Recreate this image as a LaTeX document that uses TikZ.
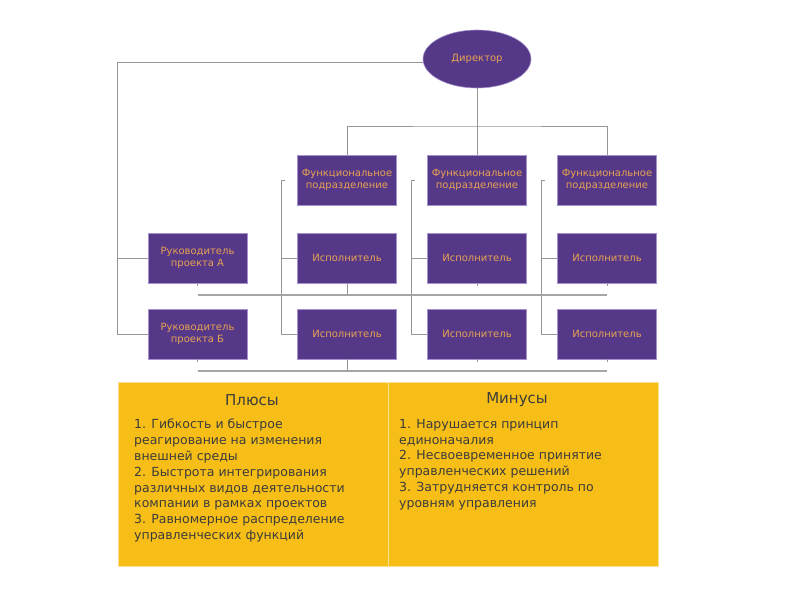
\documentclass[tikz,border=0pt]{standalone}
\usepackage{fontspec}
\setmainfont{DejaVu Sans}
\usepackage{xcolor}
\usetikzlibrary{shapes.geometric}

\definecolor{boxpurple}{RGB}{85,57,136}
\definecolor{boxedge}{RGB}{165,145,205}
\definecolor{boxtext}{RGB}{232,162,82}
\definecolor{linegray}{RGB}{150,150,150}
\definecolor{projgray}{RGB}{165,165,165}
\definecolor{panelyellow}{RGB}{246,190,22}
\definecolor{paneledge}{RGB}{250,225,150}
\definecolor{listgray}{RGB}{60,60,60}

\begin{document}
\begin{tikzpicture}[x=1pt,y=-1pt,
  unit/.style={rectangle, fill=boxpurple, draw=boxedge, line width=0.6pt,
    minimum width=99pt, minimum height=50pt, inner sep=1pt,
    text=boxtext, align=center, font=\fontsize{10}{12}\selectfont},
  link/.style={draw=linegray, line width=0.8pt},
  projline/.style={draw=projgray, line width=2pt},
  panel/.style={rectangle, fill=panelyellow, draw=paneledge, line width=0.6pt,
    minimum width=270pt, minimum height=184pt, inner sep=0pt},
  head/.style={text=listgray, font=\fontsize{15}{18}\selectfont},
  listtext/.style={text=listgray, align=left, inner sep=0pt,
    font=\fontsize{12.5}{15.8}\selectfont}]
\useasboundingbox (0,0) rectangle (800,600);

% Director and functional units
\node[unit, ellipse, minimum width=108pt, minimum height=58pt] (dir) at (477,59) {Директор};
\node[unit] (f1) at (347,180) {Функциональное\\подразделение};
\node[unit] (f2) at (477,180) {Функциональное\\подразделение};
\node[unit] (f3) at (607,180) {Функциональное\\подразделение};

% Project managers and executors
\node[unit] (ra) at (197.5,258) {Руководитель\\проекта А};
\node[unit] (rb) at (197.5,334) {Руководитель\\проекта Б};
\node[unit] (e11) at (347,258) {Исполнитель};
\node[unit] (e12) at (477,258) {Исполнитель};
\node[unit] (e13) at (607,258) {Исполнитель};
\node[unit] (e21) at (347,334) {Исполнитель};
\node[unit] (e22) at (477,334) {Исполнитель};
\node[unit] (e23) at (607,334) {Исполнитель};

% Director links
\coordinate (lt) at (117,62);
\draw[link] (dir.west |- lt) -- (lt) |- (rb.west);
\draw[link] (lt |- ra.west) -- (ra.west);
\coordinate (top) at (477,126);
\draw[link] (dir.south) -- (top);
\draw[link] (f1.north) |- (top) -| (f3.north);
\draw[link] (top) -- (f2.north);

% Functional unit links
\foreach \f/\a/\b in {f1/e11/e21, f2/e12/e22, f3/e13/e23}{
  \draw[link] ([xshift=-12pt]\f.west) -- ++(-4,0) coordinate (k) |- (\b.west);
  \draw[link] (k |- \a.west) -- (\a.west);
}

% Project links
\path (ra.south) ++(0,12) coordinate (pa);
\path (rb.south) ++(0,12) coordinate (pb);
\draw[projline] (pa) -- (e13.south |- pa);
\draw[projline] (pb) -- (e23.south |- pb);
\draw[link] (e11.south) -- (e11.south |- pa);
\draw[link] (e21.south) -- (e21.south |- pb);
\foreach \n in {ra, e12, e13, rb, e22, e23}
  \draw[link] (\n.south) -- ++(0,3);

% Pros and cons
\node[panel] (plus) at (253,474) {};
\node[panel] (minus) at (523,474) {};
\draw[paneledge, line width=1pt] (plus.north east) -- (plus.south east);
\node[head] (plushead) at (252,400) {Плюсы};
\node[head] (minushead) at (517,400) {Минусы};
\node[listtext, anchor=north west] (pluslist) at (134,419) {1. Гибкость и быстрое\\
реагирование на изменения\\
внешней среды\\
2. Быстрота интегрирования\\
различных видов деятельности\\
компании в рамках проектов\\
3. Равномерное распределение\\
управленческих функций};
\node[listtext, anchor=north west] (minuslist) at (399,419) {1. Нарушается принцип\\
единоначалия\\
2. Несвоевременное принятие\\
управленческих решений\\
3. Затрудняется контроль по\\
уровням управления};
\end{tikzpicture}
\end{document}
